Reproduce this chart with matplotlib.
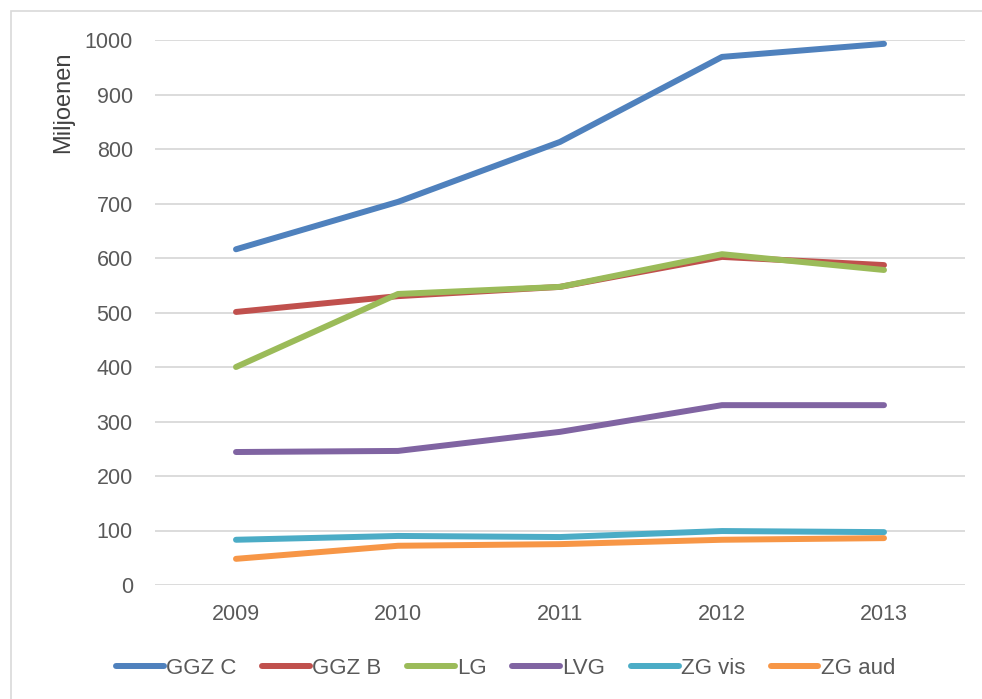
import matplotlib.pyplot as plt
from matplotlib.patches import Rectangle

plt.rcParams['font.family'] = ['Liberation Sans', 'DejaVu Sans']

years = ['2009', '2010', '2011', '2012', '2013']
ggz_c = [616, 703, 813, 969, 993]
ggz_b = [501, 530, 547, 602, 587]
lg = [400, 534, 547, 607, 578]
lvg = [244, 246, 281, 330, 330]
zg_vis = [83, 90, 88, 99, 97]
zg_aud = [48, 72, 75, 83, 86]

series = [
    ('GGZ C', ggz_c, '#4F81BD'),
    ('GGZ B', ggz_b, '#C0504D'),
    ('LG', lg, '#9BBB59'),
    ('LVG', lvg, '#8064A2'),
    ('ZG vis', zg_vis, '#4BACC6'),
    ('ZG aud', zg_aud, '#F79646'),
]

fig = plt.figure(figsize=(9.82, 6.99), dpi=100)
fig.patches.append(Rectangle((11/982, -0.01), 1.0, 1 - 11/699 + 0.01,
                             transform=fig.transFigure, fill=False,
                             edgecolor='#D9D9D9', linewidth=1.2))
ax = fig.add_axes([155/982, 1 - 585/699, 810/982, 545/699])

x = list(range(len(years)))
for name, vals, col in series:
    ax.plot(x, vals, color=col, linewidth=4.3, solid_capstyle='round',
            solid_joinstyle='round', label=name)

ax.set_xlim(-0.5, 4.5)
ax.set_ylim(0, 1000)
ax.set_yticks(range(0, 1001, 100))
ax.set_xticks(x)
ax.set_xticklabels(years)
ax.grid(axis='y', color='#D9D9D9', linewidth=1.3)
ax.set_axisbelow(True)
for s in ax.spines.values():
    s.set_visible(False)
ax.tick_params(length=0, labelsize=15.5, colors='#595959')
ax.tick_params(axis='y', pad=16)
ax.tick_params(axis='x', pad=14)
ax.set_ylabel('Miljoenen', fontsize=17, color='#404040')
ax.yaxis.set_label_coords(-0.10, 0.885)

fig.legend(loc='center', bbox_to_anchor=(0.515, 1 - 668/699), ncol=6,
           frameon=False, fontsize=16, handlelength=2.15, columnspacing=1.15,
           handletextpad=0.1, labelcolor='#595959')

fig.savefig('out.png', dpi=100)
